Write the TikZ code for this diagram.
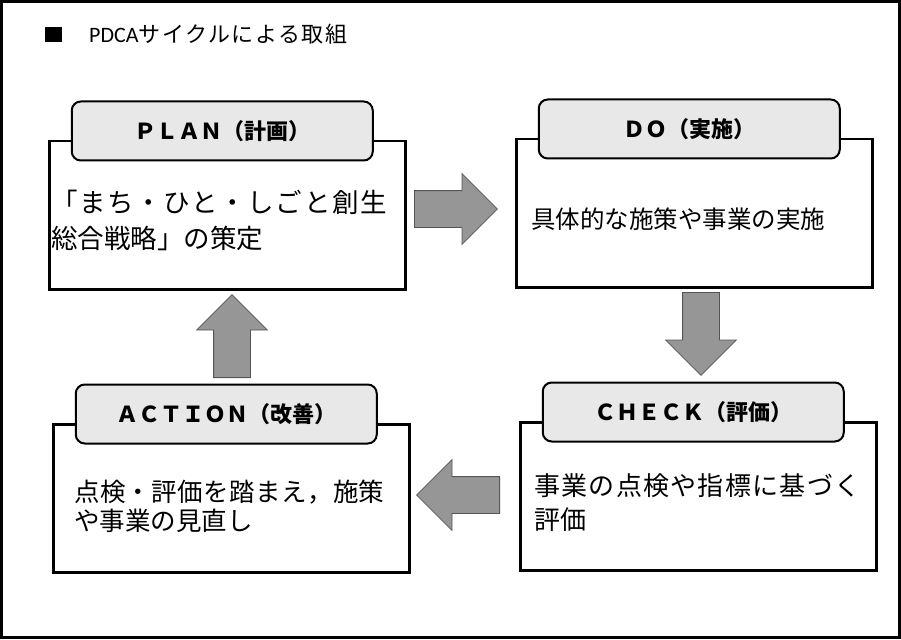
\documentclass[tikz,border=0pt]{standalone}
\usepackage{fontspec}
\usetikzlibrary{shapes.arrows,positioning}
\newfontfamily\jp{Noto Sans CJK JP}
\newfontfamily\carlito{Carlito}
\definecolor{tabgray}{RGB}{232,232,232}
\definecolor{arrowgray}{RGB}{150,150,150}
\definecolor{arrowedge}{RGB}{85,85,85}
\tikzset{
    stagebox/.style={draw, line width=2.5pt, minimum width=356pt, minimum height=148pt, inner sep=0pt, anchor=north west},
    stagetab/.style={draw, line width=2pt, fill=tabgray, rounded corners=9pt, minimum width=301pt, minimum height=59pt, inner sep=0pt, font=\fontsize{22pt}{22pt}\selectfont\jp\bfseries},
    stagetext/.style 2 args={anchor=west, align=left, inner sep=0pt, font=\fontsize{#1}{#2}\selectfont\jp},
    flowarrow/.style={single arrow, draw=arrowedge, fill=arrowgray, line width=0.8pt, minimum height=83pt, inner xsep=0pt, inner ysep=18pt, single arrow head extend=17pt, anchor=tail}
}
\newcommand{\spaced}[2]{{\addfontfeature{LetterSpace=#1}#2}}
\begin{document}
\begin{tikzpicture}[x=1pt, y=-1pt]
        \useasboundingbox (0, 0) rectangle (901, 639);
        \draw [line width=3pt] (1.5, 1.5) rectangle (899, 637.5);
        \node [fill=black, minimum width=17pt, minimum height=15pt, inner sep=0pt, anchor=west] (sq) at (45, 34.5) {};
        \node [anchor=west, inner sep=0pt, font=\fontsize{22pt}{22pt}\selectfont\jp] (title) at (89, 34) {{\carlito PDCA}\spaced{7}{サイクルによる取組}};
        \node [stagebox] (plan) at (48, 140) {};
        \node [stagetab] (plantab) at ([xshift=-5pt, yshift=9pt]plan.north) {ＰＬＡＮ（計画）};
        \node [stagetext={26.5pt}{36pt}] (plantext) at ([xshift=3pt, yshift=-80pt]plan.north west) {\spaced{6.4}{「まち・ひと・しごと創生}\\総合戦略」の策定};
        \node [stagebox] (do) at (515, 138) {};
        \node [stagetab] (dotab) at ([xshift=-5pt, yshift=9pt]do.north) {ＤＯ（実施）};
        \node [stagetext={24.5pt}{30pt}] (dotext) at ([xshift=16pt, yshift=-81pt]do.north west) {具体的な施策や事業の実施};
        \node [stagebox] (check) at (519, 421) {};
        \node [stagetab] (checktab) at ([xshift=-5pt, yshift=9pt]check.north) {ＣＨＥＣＫ（評価）};
        \node [stagetext={26pt}{34pt}] (checktext) at ([xshift=15pt, yshift=-82pt]check.north west) {\spaced{5}{事業の点検や指標に基づく}\\評価};
        \node [stagebox] (action) at (52, 423) {};
        \node [stagetab] (actiontab) at ([xshift=-5pt, yshift=9pt]action.north) {ＡＣＴＩＯＮ（改善）};
        \node [stagetext={25.5pt}{29pt}] (actiontext) at ([xshift=22pt, yshift=-83.5pt]action.north west) {\spaced{1.5}{点検・評価を踏まえ，施策}\\や事業の見直し};
        \node [flowarrow] (todo) at (414, 209) {};
        \node [flowarrow, rotate=-90] (tocheck) at (701, 292) {};
        \node [flowarrow, rotate=180] (toaction) at (500, 495) {};
        \node [flowarrow, rotate=90] (toplan) at (232, 378) {};
    \end{tikzpicture}
\end{document}
